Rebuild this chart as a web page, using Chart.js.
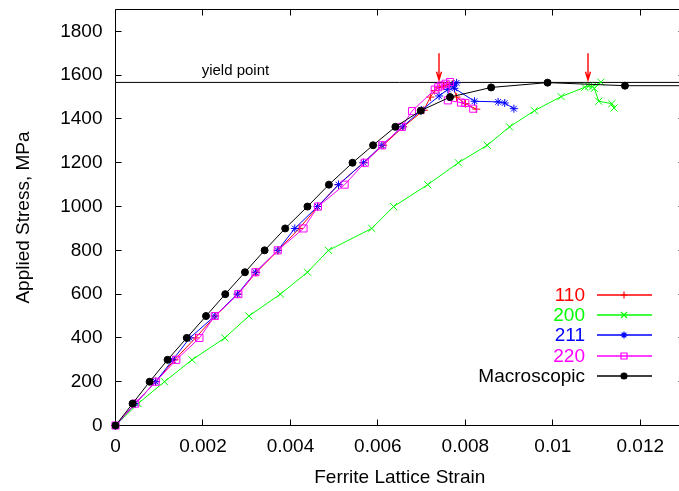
<!DOCTYPE html>
<html>
<head>
<meta charset="utf-8">
<script src="https://cdn.jsdelivr.net/npm/chart.js@4.4.0/dist/chart.umd.min.js"></script>
<style>
    html, body { margin: 0; padding: 0; background: #fff; overflow: hidden; }
    #wrap { width: 690px; height: 491px; }
</style>
</head>
<body>
<div id="wrap"><canvas id="chartCanvas" width="690" height="491"></canvas></div>
<script>
// tick values
const xTicks = [0, 0.002, 0.004, 0.006, 0.008, 0.010, 0.012];
const yTicks = [0, 200, 400, 600, 800, 1000, 1200, 1400, 1600, 1800];

// 110 reflection
const r110X = [0, 0.00045, 0.00092, 0.00135, 0.00183, 0.00228, 0.0028, 0.00322, 0.00372, 0.0042, 0.00463, 0.0051, 0.00567, 0.00612, 0.00658, 0.00705, 0.0072, 0.0073, 0.0074, 0.0075, 0.0076, 0.0077, 0.0078, 0.0080, 0.00825];
const r110Y = [0, 100, 200, 300, 400, 500, 600, 700, 800, 900, 1000, 1100, 1200, 1280, 1364, 1440, 1500, 1530, 1545, 1550, 1555, 1560, 1500, 1470, 1445];

// 200 reflection
const g200X = [0, 0.000515, 0.00112, 0.00175, 0.0025, 0.00305, 0.00377, 0.00439, 0.00487, 0.00586, 0.00636, 0.00714, 0.00784, 0.0085, 0.00901, 0.00958, 0.01019, 0.01073, 0.01082, 0.0109, 0.0111, 0.01095, 0.01105, 0.01135, 0.0114];
const g200Y = [0, 100, 200, 300, 400, 500, 600, 700, 800, 900, 1000, 1100, 1200, 1280, 1364, 1438, 1502, 1545, 1550, 1548, 1568, 1540, 1481, 1470, 1450];

// 211 reflection
const b211X = [0, 0.00045, 0.00092, 0.00131, 0.0017, 0.00227, 0.00279, 0.0032, 0.00371, 0.0041, 0.00462, 0.0051, 0.00567, 0.00609, 0.00656, 0.0070, 0.0074, 0.0076, 0.0077, 0.0078, 0.00775, 0.00821, 0.00875, 0.0089, 0.00911];
const b211Y = [0, 100, 200, 300, 400, 500, 600, 700, 800, 900, 1000, 1100, 1200, 1280, 1364, 1440, 1505, 1535, 1555, 1565, 1540, 1481, 1478, 1473, 1447];

// 220 reflection
const m220X = [0, 0.00045, 0.00092, 0.00139, 0.00192, 0.00227, 0.00281, 0.0032, 0.00371, 0.0043, 0.00463, 0.00524, 0.0057, 0.0061, 0.00655, 0.00678, 0.0073, 0.00738, 0.00745, 0.00755, 0.00765, 0.0076, 0.0079, 0.0080, 0.00818];
const m220Y = [0, 100, 200, 300, 400, 500, 600, 700, 800, 900, 1000, 1100, 1200, 1280, 1364, 1436, 1534, 1545, 1553, 1561, 1569, 1485, 1475, 1473, 1447];

// macroscopic strain
const macroX = [0, 0.00039, 0.00078, 0.00119, 0.00163, 0.00207, 0.00251, 0.00296, 0.00341, 0.00388, 0.00439, 0.00488, 0.00542, 0.00589, 0.0064, 0.00698, 0.00765, 0.00859, 0.00988, 0.01165, 0.0135];
const macroY = [0, 100, 200, 300, 400, 500, 600, 700, 800, 900, 1000, 1100, 1200, 1280, 1364, 1438, 1500, 1544, 1566, 1552, 1552];

// yield point line and arrows
const yieldX = [0, 0.013];
const yieldY = [1567, 1567];
const arrowX = [0.0074, 0.0108];
const arrowFrom = 1700;
const arrowTo = 1579;

const FONT = "'Liberation Sans', Arial, Helvetica, sans-serif";
Chart.defaults.font.family = FONT;
Chart.defaults.font.size = 19;
Chart.defaults.color = '#000';

function pairs(xs, ys) {
    return xs.map((e, i) => ({x: e, y: ys[i]}));
}

function series(label, xs, ys, color, style, radius, order) {
    return {
        label: label,
        data: pairs(xs, ys),
        borderColor: color,
        backgroundColor: color,
        pointBorderColor: color,
        pointBackgroundColor: style === 'circle' ? color : 'rgba(0,0,0,0)',
        pointStyle: style,
        pointRadius: radius,
        pointBorderWidth: 1,
        borderWidth: 1,
        showLine: true,
        clip: false,
        order: order,
        legendColor: color,
        inLegend: true
    };
}

// frame with inward ticks (gnuplot look)
const frameTicks = {
    id: 'frameTicks',
    beforeDatasetsDraw(chart) {
        const {ctx, chartArea: a, scales: {x, y}} = chart;
        const L = Math.floor(a.left) + 0.5, R = Math.floor(a.right) + 0.5;
        const T = Math.floor(a.top) + 0.5, B = Math.floor(a.bottom) + 0.5;
        ctx.save();
        ctx.strokeStyle = '#000';
        ctx.lineWidth = 1;
        ctx.beginPath();
        ctx.rect(L, T, R - L, B - T);
        x.ticks.forEach(t => {
            const px = Math.floor(x.getPixelForValue(t.value)) + 0.5;
            ctx.moveTo(px, B); ctx.lineTo(px, B - 6);
            ctx.moveTo(px, T); ctx.lineTo(px, T + 6);
        });
        y.ticks.forEach(t => {
            const py = Math.floor(y.getPixelForValue(t.value)) + 0.5;
            ctx.moveTo(L, py); ctx.lineTo(L + 6, py);
            ctx.moveTo(R, py); ctx.lineTo(R - 6, py);
        });
        ctx.stroke();
        ctx.restore();
    }
};

// legend, yield label and red arrows
const annotations = {
    id: 'annotations',
    afterDraw(chart) {
        const {ctx, scales: {x, y}} = chart;
        ctx.save();

        ctx.font = '15px ' + FONT;
        ctx.fillStyle = '#000';
        ctx.textAlign = 'left';
        ctx.textBaseline = 'alphabetic';
        ctx.fillText('yield point', x.getPixelForValue(0.00197), y.getPixelForValue(1603));

        // arrows drawn a bit wide so the thin red stroke keeps its colour
        ctx.strokeStyle = '#ff0000';
        ctx.lineWidth = 1.4;
        arrowX.forEach(v => {
            const px = Math.round(x.getPixelForValue(v));
            const top = y.getPixelForValue(arrowFrom);
            const tip = y.getPixelForValue(arrowTo);
            ctx.beginPath();
            ctx.moveTo(px, top); ctx.lineTo(px, tip);
            ctx.moveTo(px - 2.5, tip - 8); ctx.lineTo(px, tip); ctx.lineTo(px + 2.5, tip - 8);
            ctx.stroke();
        });

        // legend rows: coloured label, line sample, marker
        const entries = chart.data.datasets.filter(d => d.inLegend);
        ctx.font = '19px ' + FONT;
        ctx.textAlign = 'right';
        ctx.textBaseline = 'middle';
        entries.forEach((ds, i) => {
            const col = ds.legendColor;
            const yy = Math.round(295 + i * 20.2);
            ctx.fillStyle = col;
            ctx.fillText(ds.label, 585, yy + 1);

            ctx.beginPath();
            ctx.strokeStyle = col;
            ctx.lineWidth = 1.4;
            ctx.moveTo(597, yy);
            ctx.lineTo(652, yy);
            ctx.stroke();

            ctx.lineWidth = 1.2;
            ctx.fillStyle = ds.pointStyle === 'circle' ? col : 'rgba(0,0,0,0)';
            Chart.helpers.drawPoint(ctx, {
                pointStyle: ds.pointStyle,
                radius: ds.pointRadius * 0.85,
                rotation: 0,
                borderWidth: 1.2
            }, 624, yy);
        });
        ctx.restore();
    }
};

const datasets = [
    series('110', r110X, r110Y, '#ff0000', 'cross', 4, 5),
    series('200', g200X, g200Y, '#00ff00', 'crossRot', 5, 4),
    series('211', b211X, b211Y, '#0000ff', 'star', 4, 3),
    series('220', m220X, m220Y, '#ff00ff', 'rect', 5, 2),
    series('Macroscopic', macroX, macroY, '#000000', 'circle', 3.5, 1),
    {
        label: 'yield',
        data: pairs(yieldX, yieldY),
        borderColor: '#000',
        borderWidth: 1,
        pointRadius: 0,
        showLine: true,
        clip: false,
        order: 6,
        inLegend: false
    }
];

new Chart(document.getElementById('chartCanvas').getContext('2d'), {
    type: 'scatter',
    data: {datasets: datasets},
    options: {
        responsive: false,
        animation: false,
        layout: {padding: {left: 0, right: 5.5, top: 9.5, bottom: 0}},
        plugins: {
            legend: {display: false},
            tooltip: {enabled: false}
        },
        scales: {
            x: {
                type: 'linear',
                min: 0,
                max: 0.013,
                afterBuildTicks: scale => { scale.ticks = xTicks.map(v => ({value: v})); },
                afterFit: scale => {
                    scale.height = 65.5;
                    scale.paddingLeft = 0;
                    scale.paddingRight = 0;
                },
                grid: {display: false, drawTicks: false},
                border: {display: false},
                ticks: {
                    padding: 10,
                    maxRotation: 0,
                    callback: value => parseFloat(value.toFixed(4)).toString()
                },
                title: {
                    display: true,
                    text: 'Ferrite Lattice Strain',
                    font: {size: 19},
                    padding: {top: 0, bottom: 2}
                }
            },
            y: {
                type: 'linear',
                min: 0,
                max: 1900,
                afterBuildTicks: scale => { scale.ticks = yTicks.map(v => ({value: v})); },
                afterFit: scale => {
                    scale.width = 115.5;
                    scale.paddingTop = 0;
                    scale.paddingBottom = 0;
                },
                grid: {display: false, drawTicks: false},
                border: {display: false},
                ticks: {
                    padding: 13,
                    callback: value => String(value)
                },
                title: {
                    display: true,
                    text: 'Applied Stress, MPa',
                    font: {size: 19},
                    padding: {top: 12, bottom: 0}
                }
            }
        }
    },
    plugins: [frameTicks, annotations]
});
</script>
</body>
</html>
